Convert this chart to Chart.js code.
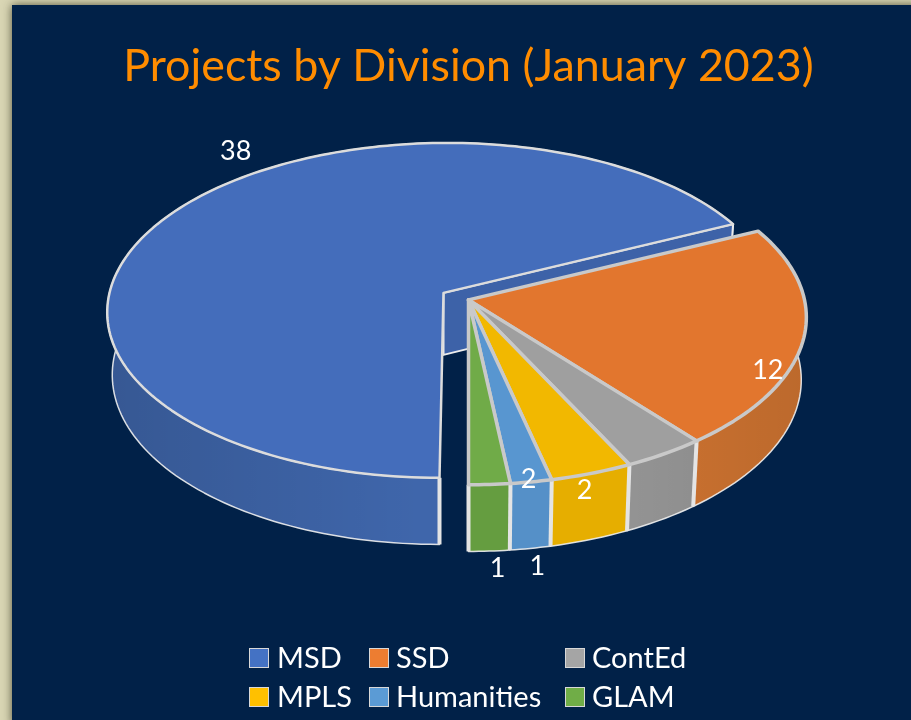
<!DOCTYPE html>
<html>
<head>
<meta charset="utf-8">
<title>Projects by Division</title>
<style>
  html, body { margin: 0; padding: 0; background: #d9d6b4; overflow: hidden; }
  #wrap { position: relative; width: 911px; height: 720px; }
</style>
</head>
<body>
<div id="wrap"><canvas id="divisionChart" width="911" height="720"></canvas></div>
<script src="https://cdn.jsdelivr.net/npm/chart.js@4"></script>
<script>
// Projects by Division (January 2023)
const chartTitle = 'Projects by Division (January 2023)';
const divisions = ['MSD', 'SSD', 'ContEd', 'MPLS', 'Humanities', 'GLAM'];
const projects = [38, 12, 2, 2, 1, 1];

const topColors = ['#446dbb', '#e2762e', '#9f9f9f', '#f2b800', '#5896d0', '#70ab48'];
const wallColors = ['#3f66ab', '#cc7230', '#939393', '#e6ae00', '#5590c8', '#659d40'];
const legendColors = ['#4472c4', '#ed7d31', '#a5a5a5', '#ffc000', '#5b9bd5', '#70ad47'];

// where each value label sits, relative to the rim middle of its slice
const labelOffsets = [[58, -58], [-36, 33], [-80, 37], [-63, 6], [6, 84], [8, 84]];
const legendColumns = [[249, 277], [369, 396], [565, 592]];
const legendRows = [658, 697];

const NAVY = '#012148';
const TILT = 165.6;      // vertical half size of the disc
const PERSP = 0.1045;    // front of the disc is nearer than the back
const DEPTH = 62;        // wall height
const BOTTOM_X = 0.985;
const BOTTOM_Y = 1.025;
const MSD_LEAN = 4;      // the pulled out slice leans a little to the left

function centreOf(arc, i) {
    // MSD is pulled away from the rest
    return i === 0 ? { x: arc.x - 25, y: arc.y - 7, lean: MSD_LEAN } : { x: arc.x, y: arc.y, lean: 0 };
}

function radiusOf(arc, i) {
    return i === 0 ? arc.outerRadius - 2 : arc.outerRadius;
}

function topPoint(c, r, angle) {
    const u = Math.cos(angle), v = Math.sin(angle), w = 1 - PERSP * v;
    return { x: c.x + r * u / w - c.lean * v, y: c.y + TILT * v / w };
}

function bottomPoint(c, r, angle) {
    const u = Math.cos(angle), v = Math.sin(angle), w = 1 - PERSP * v;
    return { x: c.x + BOTTOM_X * r * u / w - c.lean * v, y: c.y + DEPTH + BOTTOM_Y * TILT * v / w };
}

function polygon(ctx, pts) {
    ctx.beginPath();
    pts.forEach((p, k) => (k ? ctx.lineTo(p.x, p.y) : ctx.moveTo(p.x, p.y)));
    ctx.closePath();
}

function rim(fn, c, r, a0, a1) {
    const pts = [];
    const steps = Math.max(8, Math.ceil((a1 - a0) * 40));
    for (let k = 0; k <= steps; k++) pts.push(fn(c, r, a0 + (a1 - a0) * k / steps));
    return pts;
}

function drawWall(ctx, arc, i) {
    const c = centreOf(arc, i), r = radiusOf(arc, i);
    const pts = rim(topPoint, c, r, arc.startAngle, arc.endAngle)
        .concat(rim(bottomPoint, c, r, arc.startAngle, arc.endAngle).reverse());
    polygon(ctx, pts);
    ctx.fillStyle = wallColors[i];
    ctx.fill();
    // walls get darker towards the sides
    const g = ctx.createLinearGradient(105, 0, 805, 0);
    g.addColorStop(0, 'rgba(0,0,0,0.14)');
    g.addColorStop(0.45, 'rgba(0,0,0,0)');
    g.addColorStop(0.75, 'rgba(0,0,0,0)');
    g.addColorStop(1, 'rgba(0,0,0,0.08)');
    ctx.fillStyle = g;
    ctx.fill();
    ctx.strokeStyle = 'rgba(240,240,240,0.9)';
    ctx.lineWidth = 1.5;
    ctx.lineJoin = 'round';
    ctx.stroke();
}

function drawCutWall(ctx, arc, i) {
    const c = centreOf(arc, i), r = radiusOf(arc, i), a = arc.endAngle;
    const p = topPoint(c, r, a), q = bottomPoint(c, r, a);
    polygon(ctx, [c, p, q, { x: c.x, y: c.y + DEPTH }]);
    ctx.fillStyle = '#3d62a8';
    ctx.fill();
    ctx.strokeStyle = '#ececec';
    ctx.lineWidth = 2;
    ctx.stroke();
}

function drawDivider(ctx, arc, i, angle) {
    if (Math.sin(angle) <= 0) return;
    const c = centreOf(arc, i), r = radiusOf(arc, i);
    const p = topPoint(c, r, angle), q = bottomPoint(c, r, angle);
    ctx.beginPath();
    ctx.moveTo(p.x, p.y);
    ctx.lineTo(q.x, q.y);
    ctx.strokeStyle = '#e4e4e4';
    ctx.lineWidth = 4;
    ctx.stroke();
}

function drawTop(ctx, arc, i) {
    const c = centreOf(arc, i), r = radiusOf(arc, i);
    polygon(ctx, [c].concat(rim(topPoint, c, r, arc.startAngle, arc.endAngle)));
    ctx.fillStyle = topColors[i];
    ctx.fill();
    ctx.strokeStyle = i === 0 ? '#dcdcdc' : '#c9c9c9';
    ctx.lineWidth = i === 0 ? 2.5 : 3.5;
    ctx.lineJoin = 'round';
    ctx.stroke();
}

const pie3d = {
    id: 'pie3d',
    beforeDraw(chart) {
        const ctx = chart.ctx;
        ctx.save();
        ctx.fillStyle = '#d9d6b4';
        ctx.fillRect(0, 0, chart.width, chart.height);
        ctx.shadowColor = 'rgba(40,40,20,0.75)';
        ctx.shadowBlur = 9;
        ctx.fillStyle = NAVY;
        ctx.fillRect(12, 5, chart.width, chart.height);
        ctx.restore();
    },
    beforeDatasetDraw(chart) {
        const ctx = chart.ctx, arcs = chart.getDatasetMeta(0).data;
        ctx.save();
        drawWall(ctx, arcs[0], 0);
        drawCutWall(ctx, arcs[0], 0);
        drawDivider(ctx, arcs[0], 0, arcs[0].startAngle);
        drawTop(ctx, arcs[0], 0);
        for (let i = 1; i < arcs.length; i++) drawWall(ctx, arcs[i], i);
        for (let i = 1; i < arcs.length; i++) {
            drawDivider(ctx, arcs[i], i, arcs[i].endAngle);
        }
        for (let i = 1; i < arcs.length; i++) drawTop(ctx, arcs[i], i);
        ctx.restore();
        return false;
    },
    afterDatasetsDraw(chart) {
        const ctx = chart.ctx, arcs = chart.getDatasetMeta(0).data;
        ctx.save();
        ctx.fillStyle = '#ffffff';
        ctx.textAlign = 'center';
        ctx.textBaseline = 'middle';
        ctx.font = '27px Lato';
        arcs.forEach((arc, i) => {
            const mid = (arc.startAngle + arc.endAngle) / 2;
            const p = topPoint(centreOf(arc, i), radiusOf(arc, i), mid);
            ctx.fillText(String(projects[i]), p.x + labelOffsets[i][0], p.y + labelOffsets[i][1]);
        });
        // legend, three fixed columns
        ctx.textAlign = 'left';
        ctx.font = '29px Lato';
        divisions.forEach((name, i) => {
            const col = legendColumns[i % 3], y = legendRows[Math.floor(i / 3)];
            ctx.fillStyle = legendColors[i];
            ctx.fillRect(col[0], y - 10, 20, 20);
            ctx.strokeStyle = '#d8d8d8';
            ctx.lineWidth = 1;
            ctx.strokeRect(col[0] + 0.5, y - 9.5, 19, 19);
            ctx.fillStyle = '#ffffff';
            ctx.fillText(name, col[1], y + 1);
        });
        ctx.restore();
    }
};

new Chart(document.getElementById('divisionChart'), {
    type: 'pie',
    data: {
        labels: divisions,
        datasets: [{
            data: projects,
            backgroundColor: topColors,
            radius: 336,
            borderWidth: 0
        }]
    },
    options: {
        responsive: false,
        animation: false,
        rotation: 180,
        layout: { padding: { left: 26, bottom: 223 } },
        plugins: {
            legend: { display: false },
            tooltip: { enabled: false },
            title: {
                display: true,
                text: chartTitle,
                color: '#ff8c00',
                font: { family: 'Lato', size: 44.8, weight: 'normal', lineHeight: 1.2 },
                padding: { top: 40, bottom: 9 }
            }
        }
    },
    plugins: [pie3d]
});
</script>
</body>
</html>
